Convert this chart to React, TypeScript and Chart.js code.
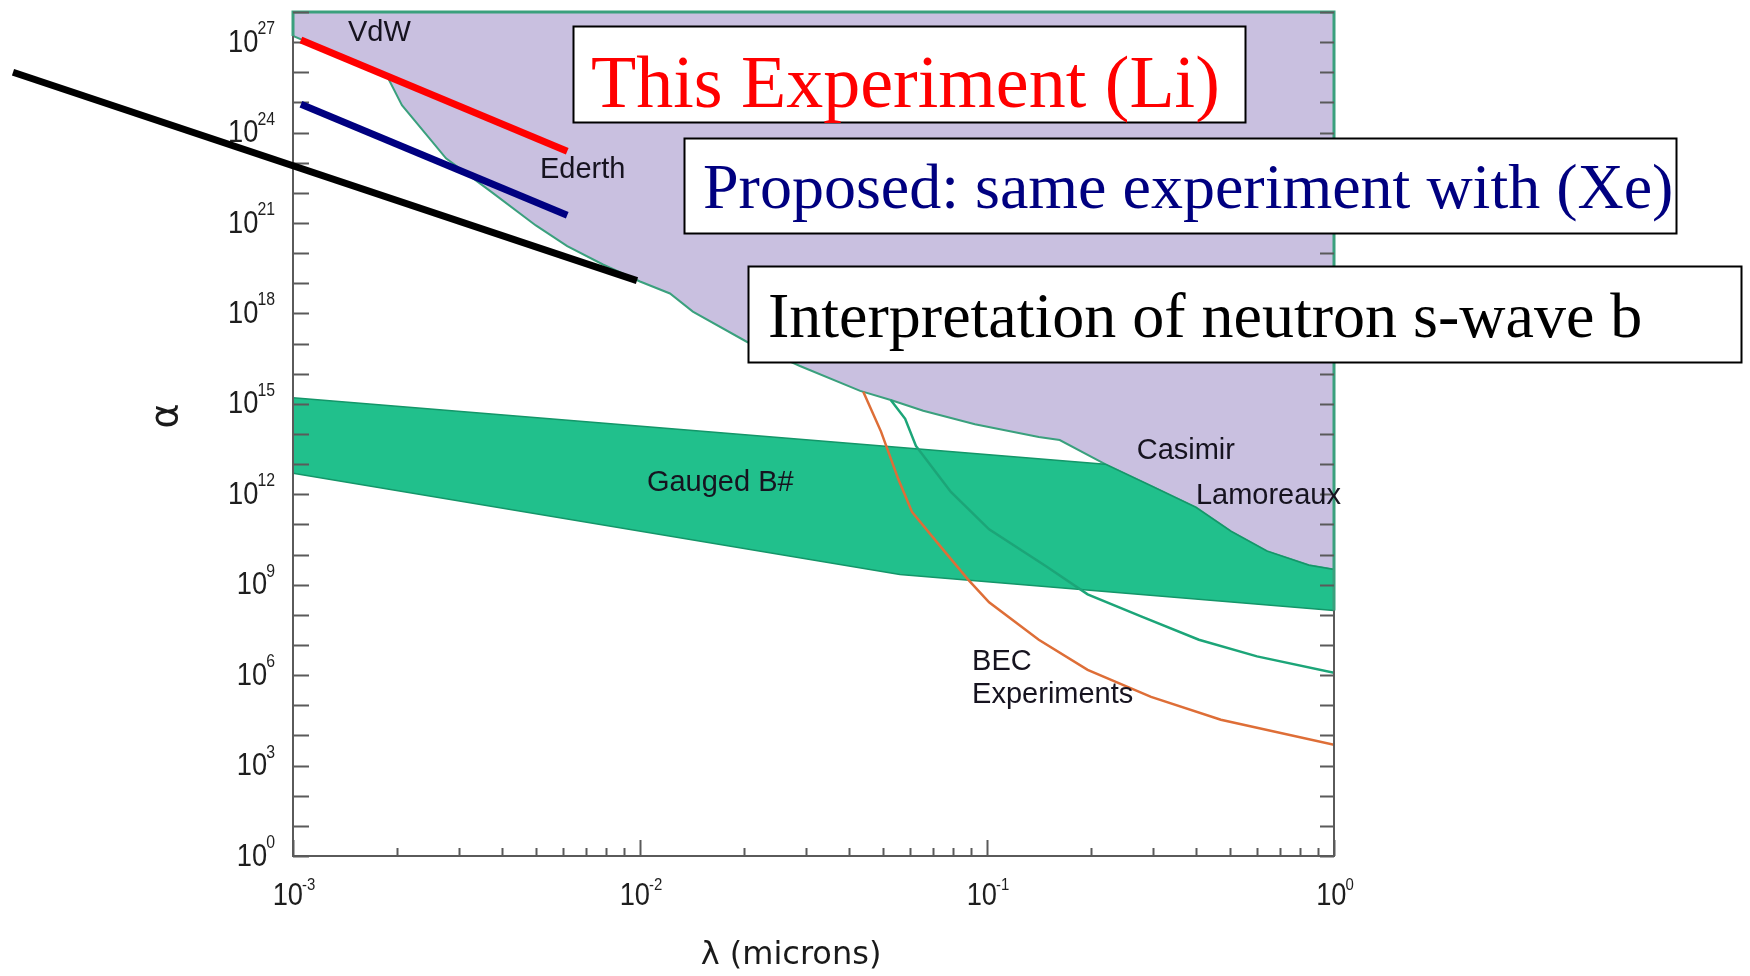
import React, { useEffect, useRef } from 'react';
import { Chart, registerables } from 'chart.js';

Chart.register(...registerables);

// λ in microns, α dimensionless coupling strength

// Upper excluded region (VdW / Ederth / Casimir / Lamoreaux limit)
const excludedLambda = [0.001, 0.001365, 0.001879, 0.00206, 0.00247, 0.00276, 0.00372, 0.00501, 0.00617, 0.00782, 0.01, 0.0122, 0.0142, 0.0203, 0.0289, 0.0431, 0.0528, 0.0655, 0.0923, 0.141, 0.162, 0.219, 0.297, 0.4, 0.505, 0.641, 0.847, 1];
const excludedAlpha = [1.6e27, 3.5e26, 6.5e25, 8.1e24, 6.5e23, 1.4e23, 1.1e22, 8.3e20, 1.7e20, 4.2e19, 1.15e19, 4.6e18, 1.15e18, 1.15e17, 1.8e16, 2.7e15, 1.35e15, 5.9e14, 2.1e14, 7.9e13, 6.3e13, 1.0e13, 1.9e12, 3.7e11, 5.9e10, 1.3e10, 4.4e9, 3.2e9];

// Gauged B# band
const bandTopLambda = [0.001, 0.219, 0.297, 0.4, 0.505, 0.641, 0.847, 1];
const bandTopAlpha = [1.6e15, 1.0e13, 1.9e12, 3.7e11, 5.9e10, 1.3e10, 4.4e9, 3.2e9];
const bandBottomLambda = [0.001, 0.0561, 1];
const bandBottomAlpha = [5.0e12, 2.2e9, 1.4e8];

// Casimir projection (lower green curve)
const casimirLambda = [0.0528, 0.0581, 0.0624, 0.0708, 0.0787, 0.1014, 0.148, 0.195, 0.278, 0.408, 0.6, 1];
const casimirAlpha = [1.35e15, 3.2e14, 4.0e13, 5.9e12, 1.2e12, 6.9e10, 4.1e9, 4.8e8, 8.9e7, 1.5e7, 4.2e6, 1.2e6];

// BEC experiments
const becLambda = [0.044, 0.0495, 0.0555, 0.0608, 0.0733, 0.0881, 0.1014, 0.141, 0.195, 0.297, 0.472, 1];
const becAlpha = [2.5e15, 1.2e14, 3.2e12, 2.6e11, 1.9e10, 1.5e9, 2.6e8, 1.5e7, 1.5e6, 1.9e5, 3.3e4, 4.9e3];

// Overlaid limit lines
const liLambda = [0.001054, 0.00617];
const liAlpha = [1.17e27, 2.4e23];
const xeLambda = [0.001054, 0.00617];
const xeAlpha = [8.7e24, 1.8e21];
const neutronLambda = [1.56e-4, 0.0098];
const neutronAlpha = [1.0e26, 1.23e19];

// Axis ticks
const xLabelExponents = [-3, -2, -1, 0];
const yLabelExponents = [0, 3, 6, 9, 12, 15, 18, 21, 24, 27];
const yDecadeMin = 0;
const yDecadeMax = 28;

// In-plot region labels, anchored in data space (left edge, baseline)
const regionLabels = [
  { text: 'VdW', lambda: 0.00144, alpha: 1.1e27 },
  { text: 'Ederth', lambda: 0.00515, alpha: 3.0e22 },
  { text: 'Gauged B#', lambda: 0.01047, alpha: 1.27e12 },
  { text: 'Casimir', lambda: 0.27, alpha: 1.48e13 },
  { text: 'Lamoreaux', lambda: 0.4, alpha: 4.7e11 },
  { text: 'BEC', lambda: 0.0906, alpha: 1.5e6 },
  { text: 'Experiments', lambda: 0.0906, alpha: 1.2e5 },
];

const pts = (xs: number[], ys: number[]) => xs.map((x, i) => ({ x, y: ys[i] }));

const PURPLE = 'rgb(201,192,224)';
const BAND = 'rgb(33,192,140)';
const EDGE_GREEN = 'rgb(58,160,125)';
const AXIS = '#5a5a5a';
const LABEL = '#16131f';
const SANS = '"Liberation Sans", Arial, sans-serif';

// "10" with a raised exponent; drawn slightly condensed like the tick font
function drawPower(
  ctx: CanvasRenderingContext2D,
  exp: string,
  x: number,
  y: number,
  align: 'right' | 'center',
  baseSize: number,
  expSize: number,
  expRise: number
) {
  const sx = 0.88;
  ctx.font = `${baseSize}px ${SANS}`;
  const wBase = ctx.measureText('10').width * sx;
  ctx.font = `${expSize}px ${SANS}`;
  const wExp = ctx.measureText(exp).width * sx;
  const total = wBase + wExp - 1;
  const x0 = align === 'right' ? x - total : x - total / 2;
  ctx.save();
  ctx.translate(x0, y);
  ctx.scale(sx, 1);
  ctx.textAlign = 'left';
  ctx.textBaseline = 'middle';
  ctx.font = `${baseSize}px ${SANS}`;
  ctx.fillText('10', 0, 0);
  ctx.font = `${expSize}px ${SANS}`;
  ctx.fillText(exp, (wBase - 1) / sx, -expRise);
  ctx.restore();
}

const framePlugin = {
  id: 'frameAndLabels',
  afterDatasetDraw(chart: any, args: any) {
    // drawn once the filled regions and curves are in place,
    // before the overlaid limit lines
    if (args.index !== 4) return;
    const ctx: CanvasRenderingContext2D = chart.ctx;
    const { left, right, top, bottom } = chart.chartArea;
    const xs = chart.scales.x;
    const ys = chart.scales.y;
    ctx.save();

    // axis frame
    ctx.strokeStyle = AXIS;
    ctx.lineWidth = 2;
    ctx.beginPath();
    ctx.moveTo(left, top);
    ctx.lineTo(left, bottom);
    ctx.lineTo(right, bottom);
    ctx.lineTo(right, top);
    ctx.stroke();

    // outline of the excluded region along the top and right edges
    const bandBottomRight = ys.getPixelForValue(bandBottomAlpha[bandBottomAlpha.length - 1]);
    const excludedLeft = ys.getPixelForValue(excludedAlpha[0]);
    ctx.strokeStyle = EDGE_GREEN;
    ctx.lineWidth = 3;
    ctx.beginPath();
    ctx.moveTo(left, excludedLeft);
    ctx.lineTo(left, top);
    ctx.lineTo(right, top);
    ctx.lineTo(right, bandBottomRight);
    ctx.stroke();

    // y ticks on both sides, one per decade
    ctx.strokeStyle = AXIS;
    ctx.lineWidth = 2;
    for (let e = yDecadeMin; e <= yDecadeMax; e++) {
      const py = Math.round(ys.getPixelForValue(Math.pow(10, e))) + 0.5;
      ctx.beginPath();
      ctx.moveTo(left, py);
      ctx.lineTo(left + 16, py);
      ctx.moveTo(right, py);
      ctx.lineTo(right - 14, py);
      ctx.stroke();
    }

    // x ticks: long at decades, short in between
    for (let d = -3; d <= 0; d++) {
      for (let m = 1; m <= 9; m++) {
        const v = m * Math.pow(10, d);
        if (v > 1.0000001) break;
        const px = Math.round(xs.getPixelForValue(v)) + 0.5;
        const len = m === 1 ? 16 : 8;
        ctx.beginPath();
        ctx.moveTo(px, bottom);
        ctx.lineTo(px, bottom - len);
        ctx.stroke();
      }
    }

    // tick labels
    ctx.fillStyle = '#1e1e1e';
    for (const e of yLabelExponents) {
      const py = ys.getPixelForValue(Math.pow(10, e));
      drawPower(ctx, String(e), left - 18, py + 1, 'right', 31, 18, 14);
    }
    for (const d of xLabelExponents) {
      const px = xs.getPixelForValue(Math.pow(10, d));
      drawPower(ctx, String(d), px + 1, bottom + 40, 'center', 31, 17, 11);
    }

    // axis titles
    ctx.fillStyle = '#1a1a1a';
    ctx.font = '32px "DejaVu Sans", sans-serif';
    ctx.textAlign = 'center';
    ctx.textBaseline = 'middle';
    ctx.fillText('λ (microns)', 791, bottom + 100);
    ctx.save();
    ctx.translate(left - 126, (top + bottom) / 2 - 18);
    ctx.rotate(-Math.PI / 2);
    ctx.font = '38px "DejaVu Sans", sans-serif';
    ctx.fillText('α', 0, 0);
    ctx.restore();

    // region labels
    ctx.fillStyle = LABEL;
    ctx.font = `29px ${SANS}`;
    ctx.textAlign = 'left';
    ctx.textBaseline = 'alphabetic';
    for (const l of regionLabels) {
      ctx.fillText(l.text, xs.getPixelForValue(l.lambda), ys.getPixelForValue(l.alpha));
    }
    ctx.restore();
  },
  afterDatasetsDraw(chart: any) {
    const ctx: CanvasRenderingContext2D = chart.ctx;
    const boxes = [
      { text: 'This Experiment (Li)', color: '#ff0000', size: 74, x: 573, y: 26, w: 672, h: 96, tx: 591, ty: 107 },
      { text: 'Proposed: same experiment with (Xe)', color: '#000080', size: 64, x: 684, y: 138, w: 992, h: 95, tx: 703, ty: 208 },
      { text: 'Interpretation of neutron s-wave b', color: '#000000', size: 64, x: 748, y: 266, w: 993, h: 96, tx: 768, ty: 337 },
    ];
    ctx.save();
    for (const b of boxes) {
      ctx.fillStyle = '#ffffff';
      ctx.fillRect(b.x, b.y, b.w, b.h);
      ctx.strokeStyle = '#000';
      ctx.lineWidth = 2;
      ctx.strokeRect(b.x + 0.5, b.y + 0.5, b.w, b.h);
      ctx.fillStyle = b.color;
      ctx.font = `${b.size}px "Liberation Serif", "Times New Roman", serif`;
      ctx.textAlign = 'left';
      ctx.textBaseline = 'alphabetic';
      ctx.fillText(b.text, b.tx, b.ty);
    }
    ctx.restore();
  },
};

export default function App() {
  const canvasRef = useRef<HTMLCanvasElement | null>(null);

  useEffect(() => {
    const canvas = canvasRef.current;
    if (!canvas) return;
    const chart = new Chart(canvas, {
      type: 'line',
      data: {
        datasets: [
          {
            label: 'Excluded',
            data: pts(excludedLambda, excludedAlpha),
            borderColor: EDGE_GREEN,
            borderWidth: 2,
            backgroundColor: PURPLE,
            fill: 'end',
            order: 10,
          },
          {
            label: 'Gauged B# lower',
            data: pts(bandBottomLambda, bandBottomAlpha),
            borderColor: 'rgb(20,150,105)',
            borderWidth: 1.5,
            fill: false,
            order: 8,
          },
          {
            label: 'Gauged B# upper',
            data: pts(bandTopLambda, bandTopAlpha),
            borderColor: 'rgb(20,150,105)',
            borderWidth: 1.5,
            backgroundColor: BAND,
            fill: { target: 1 },
            order: 9,
          },
          {
            label: 'Casimir',
            data: pts(casimirLambda, casimirAlpha),
            borderColor: 'rgb(28,165,120)',
            borderWidth: 2.5,
            fill: false,
            order: 7,
          },
          {
            label: 'BEC Experiments',
            data: pts(becLambda, becAlpha),
            borderColor: 'rgb(222,110,55)',
            borderWidth: 2.5,
            fill: false,
            order: 6,
          },
          {
            label: 'Neutron s-wave',
            data: pts(neutronLambda, neutronAlpha),
            borderColor: '#000000',
            borderWidth: 7,
            borderCapStyle: 'butt',
            fill: false,
            clip: false,
            order: 3,
          },
          {
            label: 'Xe',
            data: pts(xeLambda, xeAlpha),
            borderColor: '#000080',
            borderWidth: 7,
            borderCapStyle: 'butt',
            fill: false,
            clip: false,
            order: 2,
          },
          {
            label: 'Li',
            data: pts(liLambda, liAlpha),
            borderColor: '#ff0000',
            borderWidth: 7,
            borderCapStyle: 'butt',
            fill: false,
            clip: false,
            order: 1,
          },
        ],
      },
      options: {
        responsive: false,
        animation: false,
        devicePixelRatio: 1,
        events: [],
        layout: { padding: { left: 293, right: 416, top: 12, bottom: 120 } },
        elements: { point: { radius: 0 }, line: { tension: 0 } },
        plugins: { legend: { display: false }, tooltip: { enabled: false } },
        scales: {
          x: {
            type: 'logarithmic',
            min: 0.001,
            max: 1,
            grid: { display: false },
            border: { display: false },
            ticks: { display: false },
            afterFit: (s: any) => {
              s.height = 0;
            },
          },
          y: {
            type: 'logarithmic',
            min: 1,
            max: 1e28,
            grid: { display: false },
            border: { display: false },
            ticks: { display: false },
            afterFit: (s: any) => {
              s.width = 0;
            },
          },
        },
      } as any,
      plugins: [framePlugin as any],
    });
    return () => chart.destroy();
  }, []);

  return (
    <div style={{ position: 'absolute', left: 0, top: 0, width: 1750, height: 976, background: '#fff' }}>
      <canvas ref={canvasRef} width={1750} height={976} style={{ display: 'block' }} />
    </div>
  );
}
